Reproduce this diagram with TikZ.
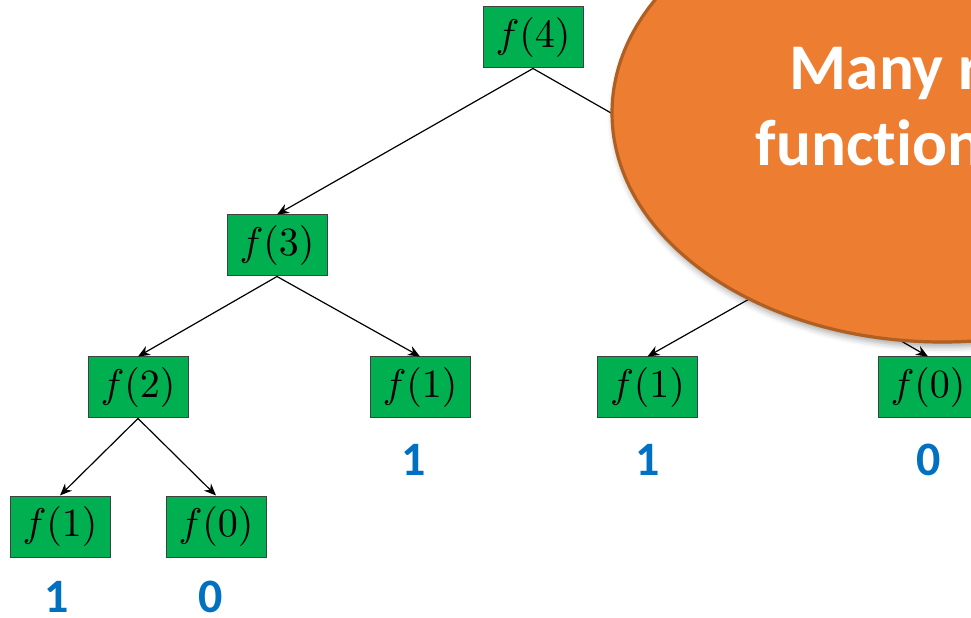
\documentclass[tikz,border=0pt]{standalone}
\usepackage{fontspec}
\newfontfamily\calib[Ligatures=NoCommon]{Carlito}
\usetikzlibrary{arrows.meta,shadows.blur,shapes.geometric}
\definecolor{callgreen}{HTML}{00B050}
\definecolor{noteorange}{HTML}{ED7D31}
\definecolor{noteedge}{HTML}{B05F22}
\definecolor{valblue}{HTML}{0070C0}
\begin{document}
\begin{tikzpicture}[x=0.25pt,y=-0.25pt,
  call/.style={draw=black!75, line width=0.25pt, fill=callgreen,
    minimum width=25pt, minimum height=15.25pt, inner sep=0pt},
  link/.style={line width=0.3pt, -{Stealth[length=3pt,width=2.5pt]}},
  val/.style={anchor=base, inner sep=0pt, text=valblue,
    font=\calib\bfseries\fontsize{12}{14}\selectfont},
  notetext/.style={anchor=base west, inner sep=0pt, text=white,
    font=\calib\bfseries\fontsize{16.3}{19}\selectfont}]
\useasboundingbox (0,0) rectangle (971,618);
\clip (0,0) rectangle (971,618);

% recursion tree of calls
\node[call] (a) at (533,37.5)  {$f(4)$};
\node[call] (b) at (277,245.5) {$f(3)$};
\node[call] (c) at (789,245.5) {$f(2)$};
\node[call] (d) at (138,387.5) {$f(2)$};
\node[call] (e) at (420,387.5) {$f(1)$};
\node[call] (g) at (647.5,387.5) {$f(1)$};
\node[call] (h) at (928,387.5) {$f(0)$};
\node[call] (i) at (60,526.5)  {$f(1)$};
\node[call] (j) at (216,526.5) {$f(0)$};

\draw[link] (a.south) -- (b.north);
\draw[link] (a.south) -- (c.north);
\draw[link] (b.south) -- (d.north);
\draw[link] (b.south) -- (e.north);
\draw[link] (c.south) -- (g.north);
\draw[link] (c.south) -- (h.north);
\draw[link] (d.south) -- (i.north);
\draw[link] (d.south) -- (j.north);

% base-case values
\node[val] (ve) at (413.5,475) {1};
\node[val] (vg) at (648,475) {1};
\node[val] (vh) at (929,475) {0};
\node[val] (vi) at (57,612) {1};
\node[val] (vj) at (211,612) {0};

% callout bubble
\node[ellipse, draw=noteedge, line width=0.8pt, fill=noteorange,
  minimum width=165pt, minimum height=114.5pt, inner sep=0pt,
  blur shadow={shadow xshift=0.4pt, shadow yshift=-1.2pt,
    shadow blur radius=1.5pt, shadow opacity=35}] (note) at (942,113) {};
\node[notetext] (t1) at (789,90) {Many r};
\node[notetext] (t2) at (755,166) {function};
\end{tikzpicture}
\end{document}
